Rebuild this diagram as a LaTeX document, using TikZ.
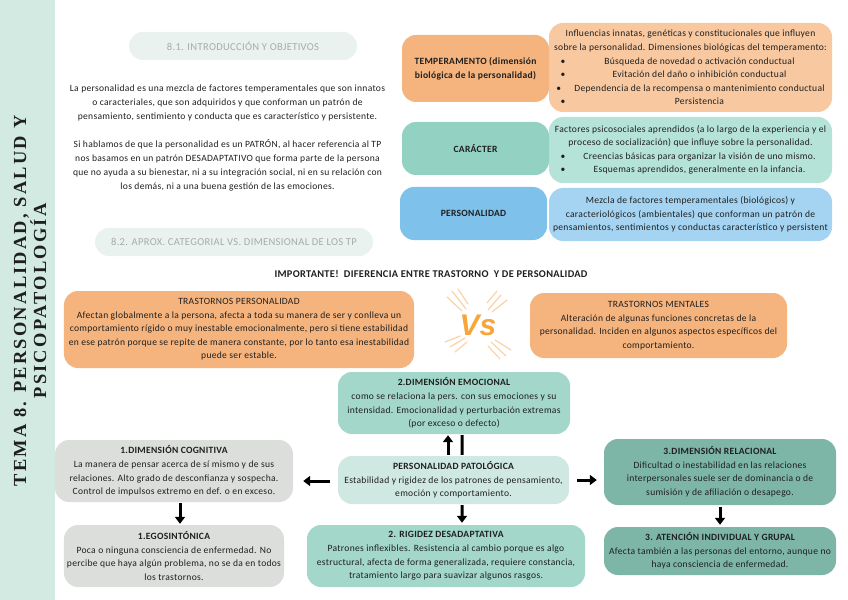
\documentclass[tikz,border=0pt]{standalone}
\usepackage{fontspec}
\setmainfont[LetterSpace=3]{Carlito}
\newfontfamily\titlefont[LetterSpace=12]{Liberation Serif}
\newfontfamily\vsfont{Liberation Sans}
\usetikzlibrary{calc,arrows.meta}
\definecolor{strip}{HTML}{D3EAE3}
\definecolor{pill}{HTML}{E9F2EF}
\definecolor{pilltxt}{HTML}{A5ADAA}
\definecolor{orangeA}{HTML}{F5B47E}
\definecolor{orangeB}{HTML}{F8C8A0}
\definecolor{tealA}{HTML}{93D1C2}
\definecolor{tealB}{HTML}{B5E3D8}
\definecolor{blueA}{HTML}{7EC1EA}
\definecolor{blueB}{HTML}{A4D4F2}
\definecolor{tealC}{HTML}{A2D7CA}
\definecolor{tealD}{HTML}{CFE9E2}
\definecolor{grayb}{HTML}{DCDEDC}
\definecolor{tealE}{HTML}{7DB6A7}
\definecolor{txt}{HTML}{1F1F1F}
\definecolor{vsor}{HTML}{F7A63A}
\definecolor{vsburst}{HTML}{FAD3A8}
\begin{document}
\begin{tikzpicture}[x=1bp,y=-1bp,
  box/.style={rounded corners=14bp, align=center, inner sep=0pt, text=txt,
    font=\fontsize{9.6}{13.6}\selectfont},
  pillbox/.style={rounded corners=14bp, fill=pill, inner sep=0pt, text=pilltxt,
    font=\fontsize{10.6}{12}\selectfont},
  plain/.style={align=center, inner sep=0pt, text=txt, font=\fontsize{9.6}{14}\selectfont},
  arr/.style={line width=3bp, -{Triangle[width=10bp,length=7bp]}},
  bar/.style={line width=3bp}]
\useasboundingbox (0,0) rectangle (848,600);
\fill[white] (0,0) rectangle (848,600);
\fill[strip] (0,0) rectangle (55,600);

% vertical title
\node[rotate=90, align=center, text=txt, inner sep=0pt,
  font=\titlefont\bfseries\fontsize{18.5}{20}\selectfont] (title) at (30,301)
  {TEMA 8. PERSONALIDAD, SALUD Y\\PSICOPATOLOGÍA};

% pills
\node[pillbox, minimum width=228bp, minimum height=28bp] (p1) at (243,46) {8.1. INTRODUCCIÓN Y OBJETIVOS};
\node[pillbox, minimum width=278bp, minimum height=28bp] (p2) at (234,242) {8.2. APROX. CATEGORIAL VS. DIMENSIONAL DE LOS TP};

% intro paragraphs
\node[plain] (intro1) at (227.5,103) {La personalidad es una mezcla de factores temperamentales que son innatos\\o caracteriales, que son adquiridos y que conforman un patrón de\\pensamiento, sentimiento y conducta que es característico y persistente.};
\node[plain] (intro2) at (227.5,165) {Si hablamos de que la personalidad es un PATRÓN, al hacer referencia al TP\\nos basamos en un patrón DESADAPTATIVO que forma parte de la persona\\que no ayuda a su bienestar, ni a su integración social, ni en su relación con\\los demás, ni a una buena gestión de las emociones.};

% right top
\node[box, fill=orangeB, minimum width=283bp, minimum height=89bp] (tempd) at (690.5,67.5)
 {Influencias innatas, genéticas y constitucionales que influyen\\
  sobre la personalidad. Dimensiones biológicas del temperamento:\\
  \makebox[260bp]{\rlap{\textbullet}\hfill\hspace{18bp}Búsqueda de novedad o activación conductual\hfill}\\
  \makebox[260bp]{\rlap{\textbullet}\hfill\hspace{18bp}Evitación del daño o inhibición conductual\hfill}\\
  \makebox[260bp]{\rlap{\textbullet}\hfill\hspace{18bp}Dependencia de la recompensa o mantenimiento conductual\hfill}\\
  \makebox[260bp]{\rlap{\textbullet}\hfill\hspace{18bp}Persistencia\hfill}};
\node[box, fill=orangeA, minimum width=147bp, minimum height=67bp] (temp) at (475.5,68.5)
 {\bfseries TEMPERAMENTO (dimensión\\\bfseries biológica de la personalidad)};

\node[box, fill=tealB, minimum width=283bp, minimum height=66bp] (card) at (690.5,150)
 {Factores psicosociales aprendidos (a lo largo de la experiencia y el\\
  proceso de socialización) que influye sobre la personalidad.\\
  \makebox[260bp]{\rlap{\textbullet}\hfill\hspace{18bp}Creencias básicas para organizar la visión de uno mismo.\hfill}\\
  \makebox[260bp]{\rlap{\textbullet}\hfill\hspace{18bp}Esquemas aprendidos, generalmente en la infancia.\hfill}};
\node[box, fill=tealA, minimum width=147bp, minimum height=53bp] (car) at (475.5,148.5)
 {\bfseries CARÁCTER};

\node[box, fill=blueB, minimum width=283bp, minimum height=53bp] (persd) at (690.5,214.5)
 {Mezcla de factores temperamentales (biológicos) y\\
  caracteriológicos (ambientales) que conforman un patrón de\\
  pensamientos, sentimientos y conductas característico y persistent};
\node[box, fill=blueA, minimum width=147bp, minimum height=53bp] (pers) at (473.5,213.5)
 {\bfseries PERSONALIDAD};

% importante
\node[plain, font=\bfseries\fontsize{10.4}{12}\selectfont] (imp) at (431,274)
 {IMPORTANTE! \ DIFERENCIA ENTRE TRASTORNO \ Y DE PERSONALIDAD};

\node[box, fill=orangeA, minimum width=350bp, minimum height=77bp] (tp) at (239,329.5)
 {TRASTORNOS PERSONALIDAD\\
  Afectan globalmente a la persona, afecta a toda su manera de ser y conlleva un\\
  comportamiento rígido o muy inestable emocionalmente, pero si tiene estabilidad\\
  en ese patrón porque se repite de manera constante, por lo tanto esa inestabilidad\\
  puede ser estable.};
\node[box, fill=orangeA, minimum width=257bp, minimum height=65bp] (tm) at (658.5,325.5)
 {TRASTORNOS MENTALES\\
  Alteración de algunas funciones concretas de la\\
  personalidad. Inciden en algunos aspectos específicos del\\
  comportamiento.};

% VS
\begin{scope}[vsburst, line width=1.2bp, line cap=round]
\draw (452,291) -- (466,309); \draw (447,297) -- (462,311); \draw (458,289) -- (468,304);
\draw (501,295) -- (488,310); \draw (507,300) -- (492,312); \draw (497,291) -- (487,303);
\draw (450,347) -- (465,338); \draw (455,352) -- (467,342); \draw (445,342) -- (460,336);
\draw (506,356) -- (491,342); \draw (500,359) -- (488,346); \draw (511,350) -- (495,340);
\end{scope}
\node[inner sep=0pt, text=vsor, font=\vsfont\bfseries\itshape\fontsize{30}{30}\selectfont] (vs) at (478,325) {Vs};

% dimensional section
\node[box, fill=tealC, minimum width=232bp, minimum height=62bp] (emo) at (454,403)
 {\bfseries 2.DIMENSIÓN EMOCIONAL\\
  como se relaciona la pers. con sus emociones y su\\
  intensidad. Emocionalidad y perturbación extremas\\
  (por exceso o defecto)};
\node[box, fill=tealD, minimum width=231bp, minimum height=48bp] (pat) at (453.5,480)
 {\bfseries PERSONALIDAD PATOLÓGICA\\
  Estabilidad y rigidez de los patrones de pensamiento,\\
  emoción y comportamiento.};
\node[box, fill=grayb, minimum width=238bp, minimum height=62bp] (cog) at (174,471)
 {\bfseries 1.DIMENSIÓN COGNITIVA\\
  La manera de pensar acerca de sí mismo y de sus\\
  relaciones. Alto grado de desconfianza y sospecha.\\
  Control de impulsos extremo en def. o en exceso.};
\node[box, fill=grayb, minimum width=220bp, minimum height=62bp] (ego) at (174,556)
 {\bfseries 1.EGOSINTÓNICA\\
  Poca o ninguna consciencia de enfermedad. No\\
  percibe que haya algún problema, no se da en todos\\
  los trastornos.};
\node[box, fill=tealC, minimum width=278bp, minimum height=62bp] (rig) at (446,556)
 {\bfseries 2. RIGIDEZ DESADAPTATIVA\\
  Patrones inflexibles. Resistencia al cambio porque es algo\\
  estructural, afecta de forma generalizada, requiere constancia,\\
  tratamiento largo para suavizar algunos rasgos.};
\node[box, fill=tealE, minimum width=232bp, minimum height=66bp] (rel) at (720,472)
 {\bfseries 3.DIMENSIÓN RELACIONAL\\
  Dificultad o inestabilidad en las relaciones\\
  interpersonales suele ser de dominancia o de\\
  sumisión y de afiliación o desapego.};
\node[box, fill=tealE, minimum width=232bp, minimum height=48bp] (ate) at (720,551)
 {\bfseries 3. ATENCIÓN INDIVIDUAL Y GRUPAL\\
  Afecta también a las personas del entorno, aunque no\\
  haya consciencia de enfermedad.};

% arrows
\draw[arr] ($(pat.west)+(-8,1)$) -- ($(cog.east |- pat.west)+(10,1)$);
\draw[arr] ($(pat.east)+(8,0)$) -- ($(rel.west |- pat.east)+(-7,0)$);
\draw[arr] ($(cog.south)+(6,1)$) -- ($(ego.north)+(6,-1)$);
\draw[arr] ($(pat.north)+(-5.5,-1)$) -- ($(emo.south)+(-6,1)$);
\draw[bar] ($(emo.south)+(8,1)$) -- ($(pat.north)+(8.5,-1)$);
\draw[arr] ($(pat.south)+(8.5,1)$) -- ($(rig.north)+(16,-2)$);
\draw[arr] ($(rel.south)+(0,2)$) -- ($(ate.north)+(0,-2)$);
\end{tikzpicture}
\end{document}
